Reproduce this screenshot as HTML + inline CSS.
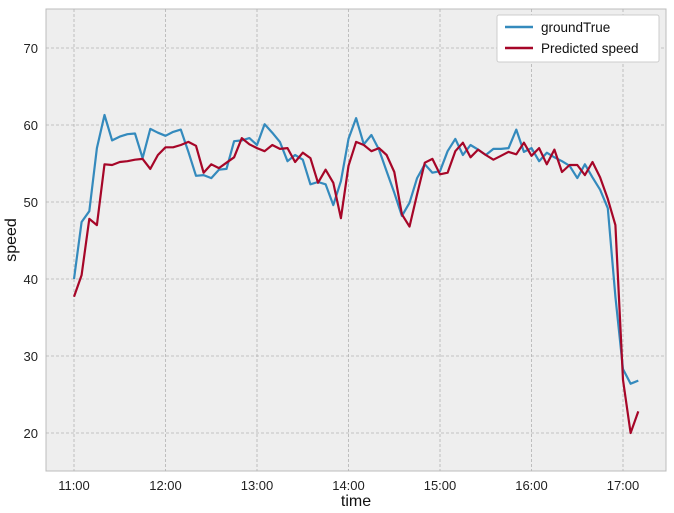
<!DOCTYPE html>
<html><head><meta charset="utf-8"><style>
body{margin:0;background:#fff;font-family:"Liberation Sans",sans-serif;}
svg text{font-family:"Liberation Sans",sans-serif;}
</style></head><body>
<svg id="chart" width="674" height="508" xmlns="http://www.w3.org/2000/svg">
<rect x="46" y="9" width="620" height="462" fill="#eeeeee" stroke="#bcbcbc" stroke-width="1"/>
<g id="grid"></g><g id="ticks"></g><g id="series"></g>
<text x="356" y="506" font-size="16" text-anchor="middle" fill="#111">time</text>
<text x="16" y="240" font-size="16" text-anchor="middle" fill="#111" transform="rotate(-90 16 240)">speed</text>
<g>
<rect x="497" y="15" width="162" height="47" fill="#fff" stroke="#ccc" rx="2"/>
<line x1="505" y1="27" x2="533" y2="27" stroke="#348ABD" stroke-width="2.5"/>
<text x="541" y="32" font-size="13.5" fill="#111">groundTrue</text>
<line x1="505" y1="48" x2="533" y2="48" stroke="#A60628" stroke-width="2.5"/>
<text x="541" y="53" font-size="13.5" fill="#111">Predicted speed</text>
</g>
</svg>
<script>
const xTickLabels=["11:00","12:00","13:00","14:00","15:00","16:00","17:00"];
const yTickValues=[20,30,40,50,60,70];
const groundTrue=[40,47.4,48.8,57,61.3,58,58.5,58.8,58.9,55.7,59.5,59,58.6,59.1,59.4,56.5,53.4,53.5,53.1,54.2,54.3,57.9,58,58.3,57.4,60.1,59,57.8,55.3,56.1,55.5,52.3,52.6,52.3,49.6,52.7,58.2,60.9,57.5,58.7,56.8,54,51.2,48.2,49.9,53.1,54.9,53.8,54,56.6,58.2,56.1,57.4,56.8,56.1,56.9,56.9,57,59.4,56.5,57,55.3,56.4,55.8,55.3,54.7,53.1,54.9,53.2,51.6,49.2,37.7,28.3,26.4,26.8];
const predicted=[37.7,40.5,47.8,47,54.9,54.8,55.2,55.3,55.5,55.6,54.3,56.1,57.1,57.1,57.4,57.8,57.3,53.8,54.9,54.4,55.1,55.8,58.3,57.5,57,56.6,57.4,56.9,57,55.2,56.4,55.7,52.5,54.2,52.5,47.9,54.7,57.8,57.4,56.6,57,56.1,53.9,48.4,46.8,51,55.1,55.6,53.6,53.8,56.6,57.7,55.8,56.8,56.1,55.5,56,56.5,56.2,57.7,56,57,54.9,56.8,53.9,54.8,54.8,53.5,55.2,53.2,50.4,47,26.9,20,22.8];
const NS="http://www.w3.org/2000/svg";
function xMin(m){return 74+m*(549/360);}   // minutes since 11:00
function yV(v){return 48+(70-v)*7.7;}
const grid=document.getElementById('grid'),ticks=document.getElementById('ticks'),ser=document.getElementById('series');
function mk(tag,attrs,parent){const e=document.createElementNS(NS,tag);for(const k in attrs)e.setAttribute(k,attrs[k]);parent.appendChild(e);return e;}
xTickLabels.forEach((lab,i)=>{const x=xMin(i*60);
 const g=mk('line',{x1:x,x2:x,y1:9,y2:471,stroke:'#b2b2b2','stroke-dasharray':'3,2','stroke-width':0.8},grid);
 
 
 const t=mk('text',{x:x,y:490,'font-size':13,'text-anchor':'middle',fill:'#222'},ticks);t.textContent=lab;
 
 
});
yTickValues.forEach(v=>{const y=yV(v);
 const g=mk('line',{x1:46,x2:666,y1:y,y2:y,stroke:'#b2b2b2','stroke-dasharray':'3,2','stroke-width':0.8},grid);
 
 
 const t=mk('text',{x:38,y:y+5,'font-size':13,'text-anchor':'end',fill:'#222'},ticks);t.textContent=v;
 
 
});
function line(data,color,name){
 const pts=data.map((v,i)=>xMin(i*5).toFixed(1)+','+yV(v).toFixed(1)).join(' ');
 const p=mk('polyline',{points:pts,fill:'none',stroke:color,'stroke-width':2.2,'stroke-linejoin':'round'},ser);
 
 
}
line(groundTrue,'#348ABD','groundtrue-line');
line(predicted,'#A60628','predicted-speed-line');
</script>
</body></html>
